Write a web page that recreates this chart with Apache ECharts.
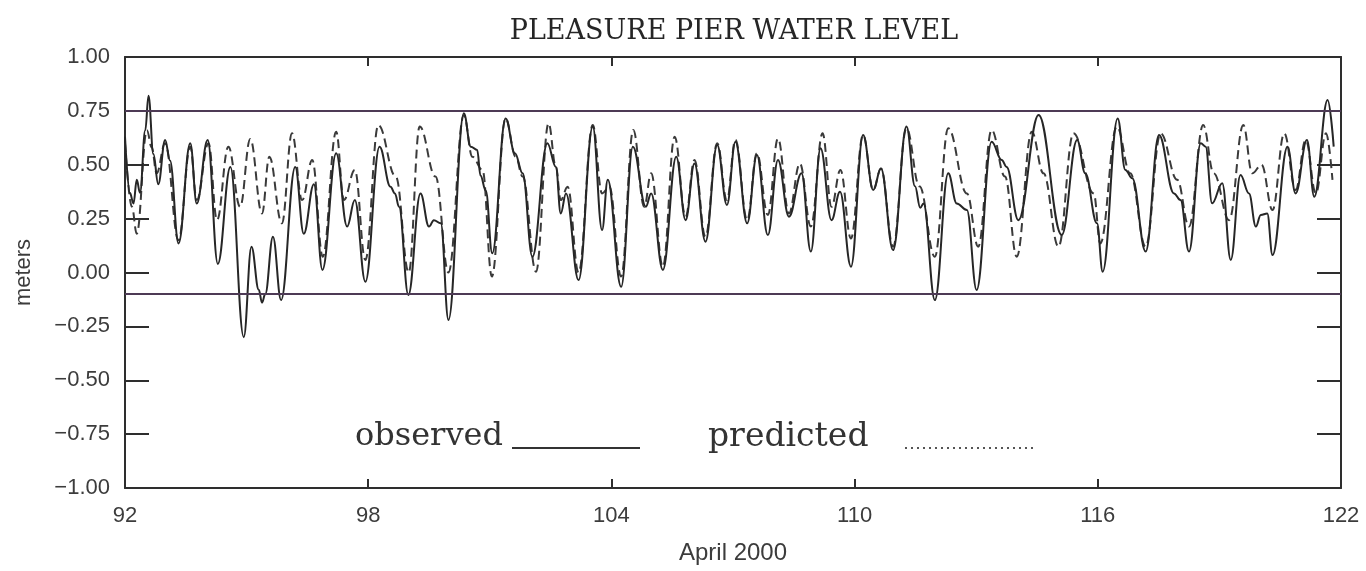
<!DOCTYPE html>
<html>
<head>
<meta charset="utf-8">
<title>Pleasure Pier water level</title>
<script src="https://cdn.jsdelivr.net/npm/echarts@6.0.0/dist/echarts.min.js"></script>
<style>
  html, body { margin: 0; padding: 0; background: #fff; }
  #chart { width: 1366px; height: 571px; }
</style>
</head>
<body>
<div id="chart"></div>
<script>
// day of year (April 2000) and level in meters
const obsDays = [
  92.00, 92.12, 92.21, 92.29, 92.37, 92.50, 92.58, 92.70, 92.82, 92.99, 93.11, 93.32, 93.61, 93.77,
  94.04, 94.29, 94.60, 94.93, 95.12, 95.30, 95.38, 95.46, 95.65, 95.85, 96.20, 96.41, 96.66, 96.87,
  97.21, 97.48, 97.67, 97.93, 98.28, 98.55, 98.66, 98.76, 98.99, 99.29, 99.50, 99.62, 99.79, 99.98,
  100.36, 100.53, 100.69, 100.77, 100.90, 101.06, 101.39, 101.62, 101.81, 102.05, 102.42, 102.63,
  102.75, 102.88, 103.19, 103.54, 103.77, 103.91, 104.24, 104.53, 104.85, 104.98, 105.27, 105.60,
  105.83, 106.05, 106.32, 106.61, 106.85, 107.06, 107.35, 107.59, 107.86, 108.11, 108.38, 108.69,
  108.92, 109.16, 109.43, 109.64, 109.91, 110.21, 110.46, 110.65, 110.95, 111.28, 111.49, 111.62,
  111.70, 111.98, 112.31, 112.52, 112.77, 113.01, 113.38, 113.63, 113.75, 114.04, 114.54, 115.11,
  115.49, 115.69, 115.98, 116.12, 116.49, 116.68, 116.85, 117.18, 117.51, 117.88, 118.04, 118.25,
  118.54, 118.66, 118.82, 119.07, 119.28, 119.52, 119.73, 119.90, 120.02, 120.18, 120.31, 120.68,
  120.88, 121.16, 121.34, 121.67, 121.82
]
const obsLevels = [
  0.63, 0.37, 0.32, 0.43, 0.37, 0.66, 0.82, 0.55, 0.41, 0.615, 0.52, 0.135, 0.60, 0.32,
  0.615, 0.04, 0.49, -0.30, 0.12, -0.08, -0.14, -0.10, 0.166, -0.128, 0.49, 0.18, 0.41, 0.012,
  0.553, 0.213, 0.337, -0.043, 0.584, 0.398, 0.367, 0.305, -0.104, 0.367, 0.213, 0.243, 0.228, -0.22,
  0.739, 0.584, 0.568, 0.45, 0.38, 0.089, 0.715, 0.553, 0.46, 0.073, 0.60, 0.49,
  0.274, 0.367, -0.035, 0.677, 0.197, 0.43, -0.066, 0.584, 0.305, 0.367, 0.012, 0.537,
  0.243, 0.506, 0.143, 0.592, 0.313, 0.607, 0.228, 0.545, 0.174, 0.522, 0.259, 0.46,
  0.097, 0.576, 0.243, 0.375, 0.027, 0.638, 0.383, 0.483, 0.104, 0.677, 0.40, 0.30,
  0.32, -0.128, 0.46, 0.32, 0.29, -0.081, 0.607, 0.522, 0.49, 0.243, 0.731, 0.174,
  0.615, 0.46, 0.228, 0.004, 0.715, 0.476, 0.437, 0.097, 0.638, 0.367, 0.336, 0.097,
  0.60, 0.584, 0.321, 0.414, 0.058, 0.452, 0.367, 0.213, 0.267, 0.274, 0.081, 0.584,
  0.367, 0.615, 0.352, 0.80, 0.584
]

const predDays = [
  92.00, 92.17, 92.29, 92.54, 92.66, 92.78, 92.99, 93.32, 93.61, 93.77, 94.06, 94.27, 94.55, 94.84,
  95.09, 95.38, 95.56, 95.87, 96.12, 96.37, 96.62, 96.88, 97.21, 97.40, 97.67, 97.93, 98.25, 98.68,
  99.00, 99.27, 99.66, 99.98, 100.36, 100.57, 100.82, 101.05, 101.39, 101.64, 101.81, 102.14, 102.45,
  102.63, 102.75, 102.92, 103.19, 103.54, 103.77, 103.95, 104.24, 104.54, 104.81, 104.98, 105.27,
  105.56, 105.83, 106.05, 106.32, 106.61, 106.85, 107.06, 107.35, 107.59, 107.86, 108.11, 108.38,
  108.65, 108.92, 109.21, 109.43, 109.65, 109.91, 110.21, 110.46, 110.65, 110.95, 111.28, 111.60,
  111.98, 112.31, 112.77, 113.05, 113.38, 113.71, 114.00, 114.37, 114.66, 115.03, 115.40, 115.90,
  116.06, 116.47, 116.80, 117.18, 117.55, 117.96, 118.25, 118.60, 118.86, 119.24, 119.59, 119.81,
  120.04, 120.31, 120.60, 120.88, 121.13, 121.38, 121.63, 121.79
]
const predLevels = [
  0.60, 0.305, 0.18, 0.66, 0.58, 0.46, 0.60, 0.15, 0.584, 0.336, 0.60, 0.243, 0.584, 0.305,
  0.62, 0.274, 0.537, 0.228, 0.646, 0.336, 0.522, 0.073, 0.653, 0.337, 0.476, 0.058, 0.684, 0.445,
  0.00, 0.677, 0.445, 0.00, 0.73, 0.537, 0.476, -0.019, 0.715, 0.537, 0.445, 0.004, 0.692,
  0.49, 0.336, 0.398, 0.00, 0.684, 0.367, 0.398, -0.019, 0.661, 0.305, 0.46, 0.027,
  0.63, 0.259, 0.522, 0.166, 0.60, 0.336, 0.615, 0.243, 0.553, 0.267, 0.622, 0.274,
  0.506, 0.213, 0.646, 0.305, 0.476, 0.158, 0.638, 0.383, 0.483, 0.12, 0.669, 0.40,
  0.073, 0.669, 0.367, 0.12, 0.661, 0.445, 0.073, 0.653, 0.46, 0.12, 0.646, 0.367,
  0.135, 0.677, 0.46, 0.12, 0.646, 0.43, 0.213, 0.684, 0.46, 0.243, 0.684, 0.46,
  0.50, 0.29, 0.646, 0.383, 0.615, 0.367, 0.646, 0.43
]

// axis ticks and the two reference levels drawn across the plot
const xTickValues = [92, 98, 104, 110, 116, 122]
const xInnerTicks = [98, 104, 110, 116]
const refLevels = [0.75, -0.1]

const zip = (xs, ys) => xs.map((x, i) => [x, ys[i]])

const ink = '#2e2e2e'
const labelColor = '#3c3c3c'
const sans = '"Liberation Sans", Arial, sans-serif'
const serif = '"DejaVu Serif", serif'

const chart = echarts.init(document.getElementById('chart'), null, { renderer: 'canvas' })

// frame axes (shared settings), never pinned to zero
const frameLine = { show: true, onZero: false, lineStyle: { color: ink, width: 2 } }

const option = {
  animation: false,
  backgroundColor: '#fff',
  grid: { left: 125, right: 25, top: 57, bottom: 83 },
  xAxis: [
    {
      type: 'value',
      min: 92,
      max: 122,
      position: 'bottom',
      name: 'April 2000',
      nameLocation: 'middle',
      nameGap: 53,
      nameTextStyle: { fontFamily: sans, fontSize: 24, color: labelColor },
      axisLine: frameLine,
      axisTick: { inside: true, length: 9, customValues: xInnerTicks, lineStyle: { color: ink, width: 2 } },
      axisLabel: { customValues: xTickValues, margin: 17, fontFamily: sans, fontSize: 22, color: labelColor },
      splitLine: { show: false }
    },
    {
      type: 'value',
      min: 92,
      max: 122,
      position: 'top',
      axisLine: frameLine,
      axisTick: { inside: true, length: 9, customValues: xInnerTicks, lineStyle: { color: ink, width: 2 } },
      axisLabel: { show: false },
      splitLine: { show: false }
    }
  ],
  yAxis: [
    {
      type: 'value',
      min: -1,
      max: 1,
      interval: 0.25,
      position: 'left',
      name: 'meters',
      nameLocation: 'middle',
      nameGap: 90,
      nameTextStyle: { fontFamily: sans, fontSize: 22, color: labelColor },
      axisLine: frameLine,
      axisTick: { inside: true, length: 24, lineStyle: { color: ink, width: 2 } },
      axisLabel: {
        margin: 15,
        fontFamily: sans,
        fontSize: 22,
        color: labelColor,
        formatter: (v) => v.toFixed(2).replace('-', '\u2212')
      },
      splitLine: { show: false }
    },
    {
      type: 'value',
      min: -1,
      max: 1,
      interval: 0.25,
      position: 'right',
      axisLine: frameLine,
      axisTick: { inside: true, length: 24, lineStyle: { color: ink, width: 2 } },
      axisLabel: { show: false },
      splitLine: { show: false }
    }
  ],
  series: [
    {
      name: 'observed',
      type: 'line',
      data: zip(obsDays, obsLevels),
      showSymbol: false,
      smooth: 0.4,
      smoothMonotone: 'x',
      lineStyle: { color: '#262626', width: 2 },
      z: 3,
      markLine: {
        silent: true,
        symbol: 'none',
        label: { show: false },
        lineStyle: { color: '#4d3a55', width: 2, type: 'solid' },
        data: refLevels.map((v) => ({ yAxis: v }))
      }
    },
    {
      name: 'predicted',
      type: 'line',
      data: zip(predDays, predLevels),
      showSymbol: false,
      smooth: 0.4,
      smoothMonotone: 'x',
      lineStyle: { color: '#3a3a3a', width: 2, type: [9, 5] },
      z: 2
    }
  ],
  graphic: [
    {
      type: 'text',
      x: 734,
      y: 32,
      style: {
        text: 'PLEASURE PIER WATER LEVEL',
        font: 'normal 27px ' + serif,
        fill: '#262626',
        align: 'center',
        verticalAlign: 'middle'
      }
    },
    // legend, drawn the way the original prints it: word then a line sample
    {
      type: 'text',
      x: 355,
      y: 437,
      style: { text: 'observed', font: 'normal 32px ' + serif, fill: '#333', verticalAlign: 'middle' }
    },
    {
      type: 'line',
      shape: { x1: 512, y1: 448, x2: 640, y2: 448 },
      style: { stroke: '#333', lineWidth: 2 }
    },
    {
      type: 'text',
      x: 708,
      y: 437,
      style: { text: 'predicted', font: 'normal 33px ' + serif, fill: '#333', verticalAlign: 'middle' }
    },
    {
      type: 'line',
      shape: { x1: 905, y1: 448, x2: 1035, y2: 448 },
      style: { stroke: '#555', lineWidth: 2, lineDash: [2, 4] }
    }
  ]
}

chart.setOption(option)
window.addEventListener('resize', () => chart.resize())
</script>
</body>
</html>
